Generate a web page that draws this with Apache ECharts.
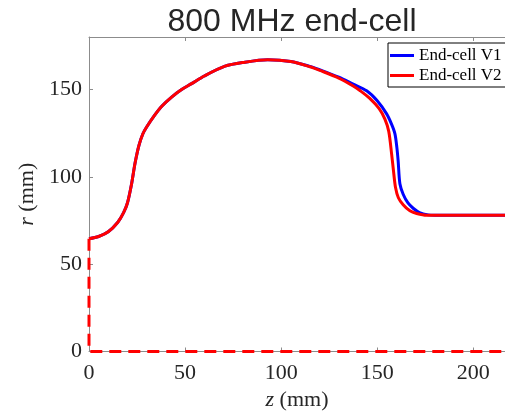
<!DOCTYPE html>
<html>
<head>
<meta charset="utf-8">
<script src="https://cdn.jsdelivr.net/npm/echarts@6/dist/echarts.min.js"></script>
<style>
  html, body { margin: 0; padding: 0; background: #fff; }
  #chart { width: 505px; height: 413px; }
</style>
</head>
<body>
<div id="chart"></div>
<script>
// end-cell V2 profile (z, r) in mm
const zV2 = [0, 5, 10, 15, 18, 20, 22, 24, 26, 28, 30, 34, 38, 43, 48, 53.4, 60, 70.8, 80, 93,
  105, 115, 120.2, 130, 137.5, 141, 146, 151, 154, 156, 157.5, 158.5, 159.5, 161, 163.5, 167, 170.5, 175.7, 216.5]
const rV2 = [64.5, 65.8, 68.5, 74, 79.5, 85, 95, 108, 118, 124.5, 128.5, 135, 140.5, 145.6, 149.8, 153.3, 157.7, 163.3, 165.4, 167,
  166, 163, 160.9, 156.5, 152, 149.4, 145, 139, 133, 126, 113, 103, 94, 88, 84, 80.5, 79, 78, 78]

// end-cell V1 profile, only differs past ~120 mm
const zV1 = [0, 5, 10, 15, 18, 20, 22, 24, 26, 28, 30, 34, 38, 43, 48, 53.4, 60, 70.8, 80, 93,
  105, 115, 120.2, 130, 137.5, 144.5, 150, 154.9, 157.5, 159.2, 160.2, 160.9, 161.8, 163.5, 166, 168.7, 172, 176.5, 180, 216.5]
const rV1 = [64.5, 65.8, 68.5, 74, 79.5, 85, 95, 108, 118, 124.5, 128.5, 135, 140.5, 145.6, 149.8, 153.3, 157.7, 163.3, 165.4, 167,
  166, 163.2, 161.2, 157, 153, 149.2, 143.5, 136, 130, 124.7, 117, 109, 96, 90, 85, 82, 79.5, 78.2, 78, 78]

// closing boundary (axis + iris wall), dashed
const zEdge = [0, 0, 216.5]
const rEdge = [64.5, 0, 0]

const xTicks = [0, 50, 100, 150, 200]
const yTicks = [0, 50, 100, 150]

function pairs(zs, rs) {
  return zs.map((z, i) => [z, rs[i]])
}

const chart = echarts.init(document.getElementById('chart'))
const serif = 'Liberation Serif'
const axisGray = '#8c8c8c'
const textGray = '#262626'

const option = {
  animation: false,
  title: {
    text: '800 MHz end-cell',
    left: 287,
    textAlign: 'center',
    top: 1,
    textStyle: { fontFamily: 'Liberation Sans', fontSize: 32, fontWeight: 'normal', color: '#262626' }
  },
  legend: {
    data: ['End-cell V1', 'End-cell V2'],
    orient: 'vertical',
    left: 388,
    top: 43,
    padding: [4, 4, 3, 2],
    itemGap: 3,
    itemWidth: 24,
    itemHeight: 3,
    icon: 'rect',
    borderColor: '#000',
    borderWidth: 1,
    borderRadius: 0,
    backgroundColor: '#fff',
    textStyle: { fontFamily: serif, fontSize: 17, color: '#000' }
  },
  grid: { left: 89, top: 37, right: 0, bottom: 61.5, outerBoundsMode: 'none', containLabel: false },
  xAxis: [{
    type: 'value',
    min: 0,
    max: 216.5,
    interval: 50,
    name: '{i|z} (mm)',
    nameLocation: 'middle',
    nameGap: 38,
    nameTextStyle: {
      fontFamily: serif, fontSize: 22, color: textGray,
      rich: { i: { fontFamily: serif, fontSize: 22, fontStyle: 'italic', color: textGray } }
    },
    axisLine: { onZero: false, lineStyle: { color: axisGray, width: 1 } },
    axisTick: { inside: true, length: 4, lineStyle: { color: axisGray } },
    axisLabel: {
      margin: 11, fontFamily: serif, fontSize: 22, color: textGray,
      formatter: v => xTicks.includes(v) ? String(v) : ''
    },
    splitLine: { show: false }
  }, {
    type: 'value',
    position: 'top',
    min: 0,
    max: 216.5,
    interval: 50,
    axisLine: { onZero: false, lineStyle: { color: axisGray, width: 1 } },
    axisTick: { inside: true, length: 4, lineStyle: { color: axisGray } },
    axisLabel: { show: false },
    splitLine: { show: false }
  }],
  yAxis: {
    type: 'value',
    min: 0,
    max: 180,
    interval: 50,
    name: '{i|r} (mm)',
    nameLocation: 'middle',
    nameGap: 50,
    nameTextStyle: {
      fontFamily: serif, fontSize: 22, color: textGray,
      rich: { i: { fontFamily: serif, fontSize: 22, fontStyle: 'italic', color: textGray } }
    },
    axisLine: { show: true, onZero: false, lineStyle: { color: axisGray, width: 1 } },
    axisTick: { show: true, inside: true, length: 4, lineStyle: { color: axisGray } },
    axisLabel: {
      margin: 7, fontFamily: serif, fontSize: 22, color: textGray,
      formatter: v => yTicks.includes(v) ? String(v) : ''
    },
    splitLine: { show: false }
  },
  series: [
    {
      name: 'End-cell V1',
      type: 'line',
      data: pairs(zV1, rV1),
      symbol: 'none',
      smooth: 0.3,
      lineStyle: { color: '#0000ff', width: 3 },
      itemStyle: { color: '#0000ff' },
      z: 2
    },
    {
      name: 'End-cell V2',
      type: 'line',
      data: pairs(zV2, rV2),
      symbol: 'none',
      smooth: 0.3,
      lineStyle: { color: '#ff0000', width: 3 },
      itemStyle: { color: '#ff0000' },
      z: 3
    },
    {
      name: 'edge',
      type: 'line',
      data: pairs(zEdge, rEdge),
      symbol: 'none',
      lineStyle: { color: '#ff0000', width: 3, type: [12, 7] },
      z: 3
    }
  ]
}
chart.setOption(option)
</script>
</body>
</html>
